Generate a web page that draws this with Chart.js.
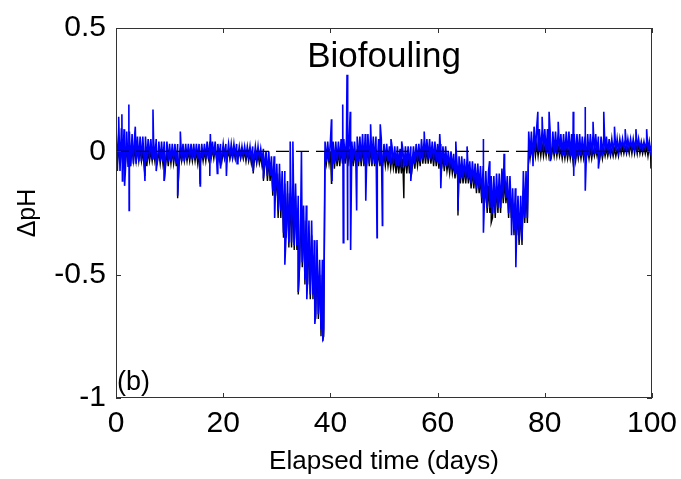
<!DOCTYPE html>
<html>
<head>
<meta charset="utf-8">
<script src="https://cdn.jsdelivr.net/npm/chart.js@4.4.1/dist/chart.umd.min.js"></script>
<style>
html, body { margin: 0; padding: 0; background: #fff; }
</style>
</head>
<body>
<canvas id="ph_chart" width="681" height="479"></canvas>
<script>
// x categories: one bin per elapsed day
let days = Array.from({length: 101}, (_, i) => i)

// blue trace, upper / lower edge of the noisy band for each day
let blueHi = [
    0.10, 0.09, 0.08, 0.07, 0.06, 0.06, 0.05, 0.05, 0.04, 0.04,
    0.03, 0.03, 0.03, 0.03, 0.03, 0.03, 0.03, 0.04, 0.04, 0.03,
    0.03, 0.03, 0.03, 0.02, 0.02, 0.02, 0.02, 0.01, 0.00, -0.02,
    -0.05, -0.08, -0.12, -0.13, -0.18, -0.22, -0.28, -0.36, -0.44, 0.04,
    0.04, 0.04, 0.05, 0.05, 0.04, 0.06, 0.07, 0.07, 0.06, 0.05,
    0.03, 0.02, 0.02, 0.01, 0.02, 0.02, 0.03, 0.05, 0.05, 0.04,
    0.03, 0.02, 0.00, -0.01, -0.02, -0.03, -0.04, -0.05, -0.06, -0.08,
    -0.10, -0.09, -0.07, -0.10, -0.15, -0.18, -0.08, 0.08, 0.10, 0.09,
    0.09, 0.08, 0.08, 0.07, 0.08, 0.07, 0.07, 0.06, 0.07, 0.07,
    0.06, 0.06, 0.05, 0.05, 0.05, 0.05, 0.05, 0.05, 0.04, 0.04,
    0.03
]
let blueLo = [
    -0.08, -0.08, -0.06, -0.05, -0.04, -0.04, -0.03, -0.03, -0.04, -0.04,
    -0.04, -0.05, -0.04, -0.03, -0.03, -0.03, -0.03, -0.03, -0.02, -0.02,
    -0.02, -0.02, -0.02, -0.02, -0.02, -0.03, -0.03, -0.04, -0.10, -0.16,
    -0.24, -0.33, -0.37, -0.38, -0.45, -0.52, -0.58, -0.66, -0.72, -0.04,
    -0.05, -0.04, -0.03, -0.04, -0.04, -0.04, -0.05, -0.05, -0.05, -0.05,
    -0.04, -0.05, -0.06, -0.06, -0.06, -0.05, -0.04, -0.03, -0.03, -0.04,
    -0.05, -0.06, -0.07, -0.09, -0.11, -0.11, -0.13, -0.15, -0.19, -0.23,
    -0.25, -0.23, -0.19, -0.25, -0.32, -0.36, -0.27, -0.02, 0.00, 0.00,
    -0.01, -0.01, -0.01, -0.02, -0.02, -0.03, -0.02, -0.02, -0.02, -0.01,
    -0.02, -0.01, 0.00, 0.00, 0.01, 0.01, 0.01, 0.01, 0.01, 0.00,
    -0.03
]
// single readings sticking out of the blue band
let blueSpikeDays = [
    0.5, 1.1, 1.2, 1.6, 2.4, 2.45, 3.6, 5.4, 6.9, 7.5, 9.0, 11.5, 12.0, 15.7, 17.5, 17.6,
    18.9, 19.5, 20.6, 22.6, 25.6, 27.5, 29.6, 31.5, 32.5, 33.0, 34.0, 34.6, 35.6, 37.1,
    38.6, 40.2, 40.3, 42.3, 42.4, 43.1, 43.2, 43.7, 43.8, 44.9, 46.6, 47.5, 48.7, 49.3,
    49.7, 51.3, 53.3, 55.0, 57.5, 60.4, 60.6, 63.4, 63.8, 65.5, 68.5, 68.6, 69.7, 72.4,
    73.8, 74.6, 77.8, 78.7, 79.5, 80.8, 81.0, 82.5, 85.3, 85.4, 87.5, 87.6, 89.0, 90.0,
    91.0, 93.0, 95.0, 97.0, 99.0
]
let blueSpikeVals = [
    0.14, 0.15, -0.12, -0.14, 0.19, -0.24, 0.10, -0.12, 0.17, -0.08, -0.12, -0.18, 0.08, -0.14, -0.10, 0.07,
    -0.09, -0.07, -0.10, -0.05, -0.08, -0.11, -0.27, -0.46, 0.04, 0.04, -0.57, 0.00, -0.60, -0.70,
    -0.77, 0.13, -0.12, 0.19, -0.37, 0.31, -0.36, 0.16, -0.40, -0.24, -0.20, 0.11, -0.35, 0.11,
    -0.30, 0.05, 0.04, -0.12, 0.08, 0.07, -0.15, 0.04, -0.24, 0.02, 0.05, -0.33, -0.04, -0.01,
    -0.34, -0.47, -0.06, 0.16, 0.14, 0.16, -0.04, 0.12, 0.16, -0.10, 0.18, -0.16, 0.12, -0.07,
    0.16, 0.10, 0.09, 0.09, 0.09
]

// black trace (mostly hidden under the blue one)
let blackHi = [
    0.02, 0.02, 0.01, 0.01, 0.01, 0.00, 0.00, 0.00, 0.00, 0.00,
    0.00, 0.00, 0.00, 0.00, 0.00, 0.00, 0.00, 0.01, 0.01, 0.00,
    0.00, 0.00, 0.00, 0.00, 0.00, -0.01, -0.01, -0.02, -0.03, -0.06,
    -0.09, -0.13, -0.17, -0.18, -0.23, -0.28, -0.34, -0.42, -0.50, 0.00,
    0.00, 0.00, 0.01, 0.01, 0.00, 0.01, 0.02, 0.02, 0.01, 0.00,
    -0.01, -0.02, -0.03, -0.03, -0.02, -0.02, -0.01, 0.01, 0.01, 0.00,
    -0.01, -0.02, -0.04, -0.05, -0.07, -0.07, -0.08, -0.09, -0.11, -0.14,
    -0.16, -0.14, -0.12, -0.15, -0.21, -0.25, -0.16, 0.02, 0.03, 0.03,
    0.02, 0.02, 0.02, 0.01, 0.01, 0.01, 0.01, 0.01, 0.01, 0.01,
    0.01, 0.01, 0.01, 0.01, 0.02, 0.02, 0.03, 0.03, 0.02, 0.02,
    0.00
]
let blackLo = [
    -0.05, -0.05, -0.04, -0.04, -0.04, -0.06, -0.04, -0.04, -0.05, -0.06,
    -0.05, -0.06, -0.04, -0.04, -0.04, -0.05, -0.04, -0.03, -0.03, -0.04,
    -0.03, -0.03, -0.03, -0.03, -0.04, -0.05, -0.05, -0.06, -0.12, -0.18,
    -0.27, -0.35, -0.39, -0.40, -0.47, -0.54, -0.60, -0.68, -0.75, -0.05,
    -0.07, -0.06, -0.05, -0.06, -0.06, -0.06, -0.06, -0.06, -0.06, -0.06,
    -0.06, -0.07, -0.09, -0.09, -0.09, -0.07, -0.06, -0.05, -0.05, -0.06,
    -0.07, -0.08, -0.09, -0.11, -0.13, -0.13, -0.15, -0.17, -0.21, -0.25,
    -0.27, -0.25, -0.21, -0.27, -0.34, -0.38, -0.29, -0.03, -0.02, -0.02,
    -0.02, -0.02, -0.02, -0.03, -0.03, -0.04, -0.03, -0.03, -0.03, -0.02,
    -0.03, -0.02, -0.02, -0.02, -0.01, -0.01, -0.01, -0.01, -0.01, -0.02,
    -0.06
]
let blackSpikeDays = [5.4, 9.0, 11.5, 15.7, 25.6, 27.5, 34.0, 38.6, 40.2, 53.7, 63.8, 70.0, 75.2, 99.8]
let blackSpikeVals = [-0.10, -0.12, -0.19, -0.13, -0.09, -0.12, -0.58, -0.76, -0.13, -0.19, -0.26, -0.29, -0.38, -0.07]

// zero reference line
let zeroDays = [0, 100]
let zeroVals = [0, 0]

let xTicks = [0, 20, 40, 60, 80, 100]
let yTicks = [0.5, 0, -0.5, -1]
let titleText = 'Biofouling'
let panelLabel = '(b)'
let xTitle = 'Elapsed time (days)'
let yTitle = '\u0394pH'

const FONT = '"Liberation Sans", Arial, sans-serif'

// zig-zag between the two band edges four times a day, then drop in the spikes
function bandPoints(hi, lo, spikeDays, spikeVals) {
    let pts = []
    for (let i = 0; i < days.length; i++) {
        let d = days[i]
        pts.push({x: d, y: hi[i]})
        if (d < 100) {
            pts.push({x: d + 0.25, y: lo[i]}, {x: d + 0.5, y: hi[i]}, {x: d + 0.75, y: lo[i]})
        } else {
            pts.push({x: d, y: lo[i]})
        }
    }
    for (let k = 0; k < spikeDays.length; k++) pts.push({x: spikeDays[k], y: spikeVals[k]})
    pts.sort((a, b) => a.x - b.x)
    return pts
}

let framePlugin = {
    id: 'frame',
    afterDatasetsDraw(chart) {
        let {ctx, chartArea: a, scales: {x, y}} = chart
        ctx.save()
        ctx.strokeStyle = '#333'
        ctx.lineWidth = 1
        ctx.strokeRect(a.left + 0.5, a.top + 0.5, a.right - a.left - 1, a.bottom - a.top - 1)
        ctx.beginPath()
        xTicks.forEach(v => {
            let px = Math.round(x.getPixelForValue(v)) + 0.5
            ctx.moveTo(px, a.bottom); ctx.lineTo(px, a.bottom - 5)
            ctx.moveTo(px, a.top); ctx.lineTo(px, a.top + 5)
        })
        yTicks.forEach(v => {
            let py = Math.round(y.getPixelForValue(v)) + 0.5
            ctx.moveTo(a.left, py); ctx.lineTo(a.left + 5, py)
            ctx.moveTo(a.right, py); ctx.lineTo(a.right - 5, py)
        })
        ctx.stroke()

        ctx.fillStyle = '#000'
        ctx.font = '35px ' + FONT
        ctx.textAlign = 'center'
        ctx.textBaseline = 'alphabetic'
        ctx.fillText(titleText, (a.left + a.right) / 2, a.top + 39)
        ctx.font = '27px ' + FONT
        ctx.textAlign = 'left'
        ctx.fillText(panelLabel, a.left + 1, a.bottom - 8)
        ctx.restore()
    }
}

let ctx = document.getElementById('ph_chart').getContext('2d')
let chart = new Chart(ctx, {
    type: 'line',
    data: {
        datasets: [
            {
                // dashed zero line on top
                data: zeroDays.map((d, i) => ({x: d, y: zeroVals[i]})),
                borderColor: '#000',
                borderWidth: 1.3,
                borderDash: [13, 7],
                pointRadius: 0,
                order: 0
            },
            {
                data: bandPoints(blueHi, blueLo, blueSpikeDays, blueSpikeVals),
                borderColor: '#0000ff',
                borderWidth: 1.6,
                pointRadius: 0,
                order: 1
            },
            {
                data: bandPoints(blackHi, blackLo, blackSpikeDays, blackSpikeVals),
                borderColor: '#000',
                borderWidth: 1.4,
                pointRadius: 0,
                order: 2
            }
        ]
    },
    options: {
        responsive: false,
        animation: false,
        parsing: false,
        normalized: true,
        elements: {line: {tension: 0, fill: false}},
        layout: {padding: {top: 28, right: 29, bottom: 0, left: 0}},
        plugins: {legend: {display: false}, tooltip: {enabled: false}},
        scales: {
            x: {
                type: 'linear',
                min: 0,
                max: 100,
                afterFit: s => { s.height = 81 },
                afterBuildTicks: s => { s.ticks = xTicks.map(v => ({value: v})) },
                grid: {display: false},
                border: {display: false},
                ticks: {color: '#000', font: {family: FONT, size: 30}, padding: 0, maxRotation: 0, callback: v => String(v)},
                title: {display: true, text: xTitle, color: '#000', font: {family: FONT, size: 26}, padding: {top: 0, bottom: 2}}
            },
            y: {
                type: 'linear',
                min: -1,
                max: 0.5,
                afterFit: s => { s.width = 116 },
                afterBuildTicks: s => { s.ticks = yTicks.map(v => ({value: v})) },
                grid: {display: false},
                border: {display: false},
                ticks: {color: '#000', font: {family: FONT, size: 30}, padding: 2, callback: v => String(v)},
                title: {display: true, text: yTitle, color: '#000', font: {family: FONT, size: 25}, padding: {top: 13, bottom: 0}}
            }
        }
    },
    plugins: [framePlugin]
})
</script>
</body>
</html>
